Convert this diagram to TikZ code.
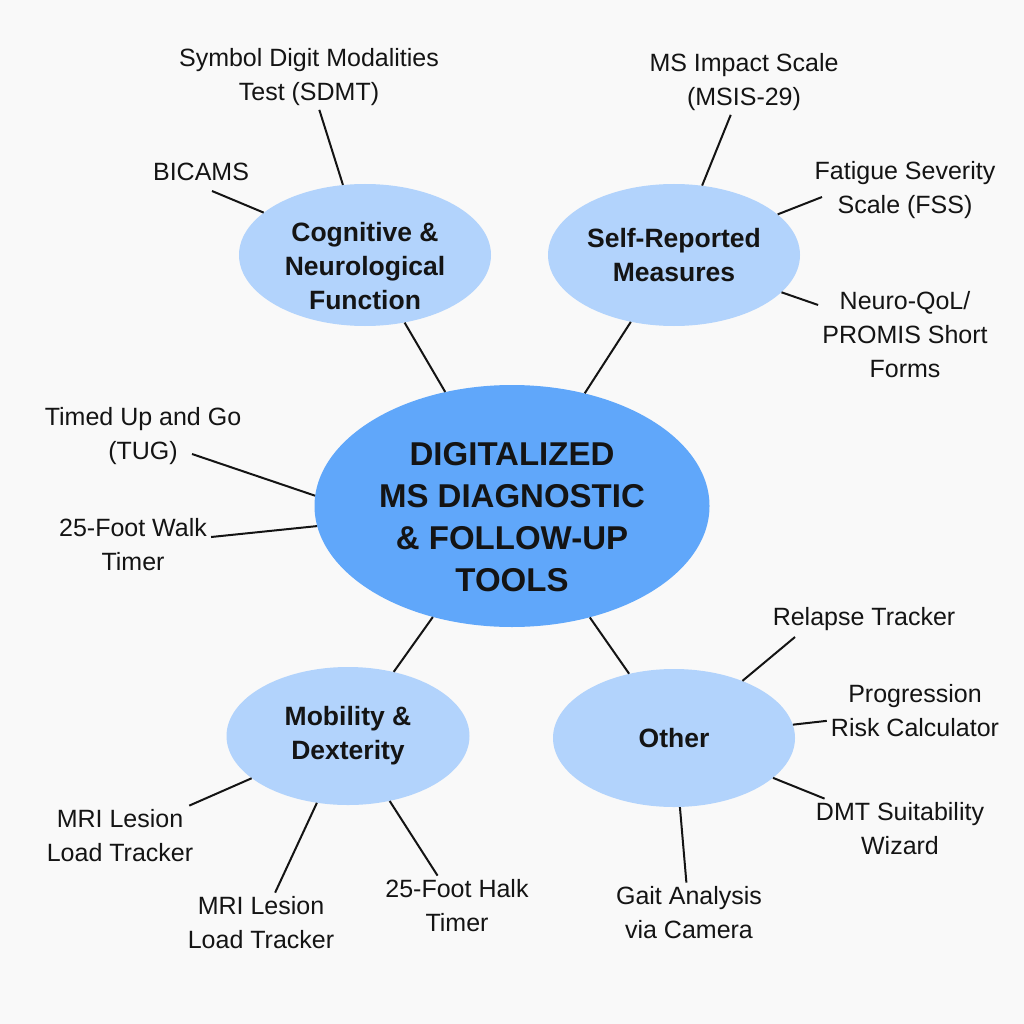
\documentclass[tikz,border=0pt]{standalone}
\usepackage{fontspec}
\setmainfont{Liberation Sans}
\usetikzlibrary{
    shapes.geometric,
    positioning
}
\definecolor{hubblue}{RGB}{96, 167, 250}
\definecolor{topicblue}{RGB}{178, 211, 252}
\definecolor{pagegray}{RGB}{249, 249, 249}
\definecolor{inkblack}{RGB}{20, 20, 20}

\begin{document}
\begin{tikzpicture}[
        x=1pt, y=-1pt,
        hub/.style={ellipse, fill=hubblue, minimum width=395pt, minimum height=242pt, inner xsep=0pt, inner ysep=-15pt, align=center, text=inkblack, font=\fontsize{33}{42}\selectfont\bfseries},
        topic/.style={ellipse, fill=topicblue, minimum width=252pt, minimum height=142pt, inner xsep=0pt, inner ysep=-15pt, align=center, text=inkblack, font=\fontsize{26.5}{34}\selectfont\bfseries},
        leaf/.style={align=center, inner sep=4pt, text=inkblack, font=\fontsize{25}{34}\selectfont},
        link/.style={draw=inkblack, line width=2pt}
    ]
        % Page
        \fill[pagegray] (0,0) rectangle (1024,1024);
        \useasboundingbox (0,0) rectangle (1024,1024);

        % Center (the strut sets the text a little below the middle)
        \node[hub] (hub) at (512,506) {\rule{0pt}{46pt}DIGITALIZED\\MS DIAGNOSTIC\\\& FOLLOW-UP\\TOOLS};

        % Four groups round the center
        \node[topic] (cog_fn) at (365,255) {\rule{0pt}{41pt}Cognitive \&\\Neurological\\Function};
        \node[topic] (self_rep) at (674,255) {Self-Reported\\Measures};
        \node[topic, minimum width=243pt, minimum height=138pt] (mob_dex) at (348,736) {Mobility \&\\Dexterity};
        \node[topic, minimum width=242pt, minimum height=138pt] (other) at (674,738) {Other};

        % Tools, top left
        \node[leaf] (bicams) at (201,172) {BICAMS};
        \node[leaf] (sdmt) at (309,77) {Symbol Digit Modalities\\Test (SDMT)};

        % Tools, top right
        \node[leaf] (msis) at (744,82) {MS Impact Scale\\(MSIS-29)};
        \node[leaf] (fss) at (905,190) {Fatigue Severity\\Scale (FSS)};
        \node[leaf] (neuro_qol) at (905,335) {Neuro-QoL/\\PROMIS Short\\Forms};

        % Tools, left of center
        \node[leaf] (tug) at (143,436) {Timed Up and Go\\(TUG)};
        \node[leaf] (walk_timer) at (133,545) {25-Foot Walk\\Timer};

        % Tools, bottom left
        \node[leaf] (mri_left) at (120,836) {MRI Lesion\\Load Tracker};
        \node[leaf] (mri_low) at (261,923) {MRI Lesion\\Load Tracker};
        \node[leaf] (halk_timer) at (457,906) {25-Foot Halk\\Timer};

        % Tools, bottom right
        \node[leaf] (relapse) at (864,619) {Relapse Tracker};
        \node[leaf] (progression) at (915,711) {Progression\\Risk Calculator};
        \node[leaf] (dmt) at (900,829) {DMT Suitability\\Wizard};
        \node[leaf] (gait) at (689,913) {Gait Analysis\\via Camera};

        % Line ends that stop inside a label's box
        \coordinate (bicams_tip) at (212,191);
        \coordinate (tug_tip) at (192,454);
        \coordinate (fss_tip) at (822,197);
        \coordinate (relapse_tip) at (795,637);

        % Center to groups
        \draw[link] (hub) -- (cog_fn);
        \draw[link] (hub) -- (self_rep);
        \draw[link] (hub) -- (mob_dex);
        \draw[link] (hub) -- (other);

        % Groups to tools
        \draw[link] (cog_fn) -- (bicams_tip);
        \draw[link] (cog_fn) -- (sdmt);
        \draw[link] (self_rep) -- (msis);
        \draw[link] (self_rep) -- (fss_tip);
        \draw[link] (self_rep) -- (neuro_qol);
        \draw[link] (hub.177) -- (tug_tip);
        \draw[link] (hub) -- (walk_timer);
        \draw[link] (mob_dex) -- (mri_left);
        \draw[link] (mob_dex) -- (mri_low);
        \draw[link] (mob_dex) -- (halk_timer);
        \draw[link] (other) -- (relapse_tip);
        \draw[link] (other) -- (progression);
        \draw[link] (other) -- (dmt);
        \draw[link] (other) -- (gait);
    \end{tikzpicture}
\end{document}
